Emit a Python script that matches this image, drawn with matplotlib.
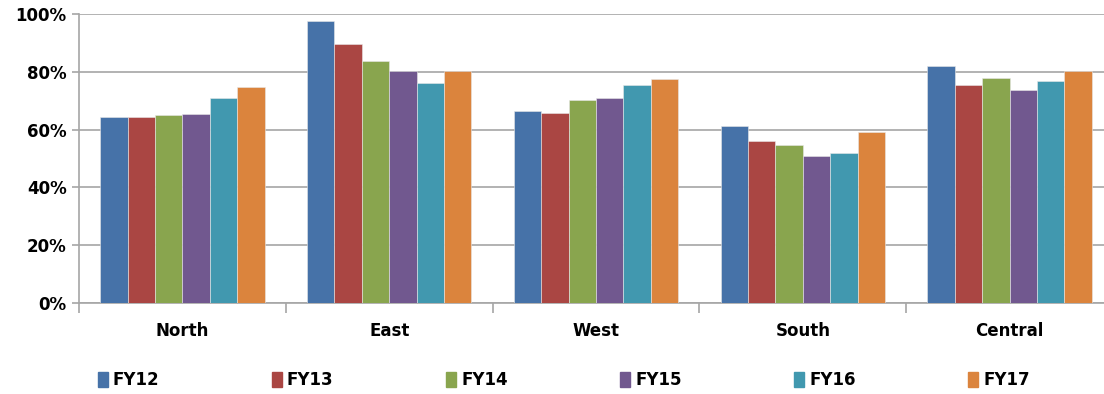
import matplotlib.pyplot as plt
from matplotlib.patches import Patch
import numpy as np

regions = ['North', 'East', 'West', 'South', 'Central']
years = ['FY12', 'FY13', 'FY14', 'FY15', 'FY16', 'FY17']
fy12 = [64.4, 97.6, 66.5, 61.1, 82.1]
fy13 = [64.2, 89.5, 65.8, 56.0, 75.6]
fy14 = [64.9, 83.6, 70.2, 54.8, 77.9]
fy15 = [65.5, 80.2, 71.1, 51.0, 73.6]
fy16 = [70.8, 76.0, 75.5, 52.0, 76.8]
fy17 = [74.8, 80.2, 77.4, 59.0, 80.3]
colors = ['#4672A8', '#AA4643', '#89A54E', '#71588F', '#4198AF', '#DB843D']

series = [fy12, fy13, fy14, fy15, fy16, fy17]
font = ['Liberation Sans Narrow', 'DejaVu Sans']

fig = plt.figure(figsize=(11.04, 3.94), dpi=100)
ax = fig.add_axes([79 / 1104, 91 / 394, 1034 / 1104, 289 / 394])

x = np.arange(len(regions))
w = 0.1325
for i, vals in enumerate(series):
    ax.bar(x + (i - 2.5) * w, vals, w, color=colors[i], edgecolor='#e8e8e8',
           linewidth=0.4, zorder=3)

ax.set_xlim(-0.5, len(regions) - 0.5)
ax.set_ylim(0, 100)
ax.set_yticks(range(0, 101, 20))
ax.set_yticklabels([f'{v}%' for v in range(0, 101, 20)], fontweight='bold',
                   fontsize=12, family=font)
ax.yaxis.grid(True, color='#a6a6a6', linewidth=1.2, zorder=0)
ax.set_xticks(x)
ax.set_xticklabels(regions, fontweight='bold', fontsize=12, family=font)
ax.tick_params(axis='x', length=0, pad=14)
ax.set_xticks(np.arange(-0.5, len(regions), 1), minor=True)
ax.tick_params(axis='x', which='minor', length=7, color='#a6a6a6', width=1.2)
ax.tick_params(axis='y', length=5, color='#a6a6a6', width=1.2, pad=4)
for s in ['top', 'right']:
    ax.spines[s].set_visible(False)
for s in ['left', 'bottom']:
    ax.spines[s].set_color('#a6a6a6')
    ax.spines[s].set_linewidth(1.2)

handles = [Patch(color=c) for c in colors]
fig.legend(handles, years, loc='center left', bbox_to_anchor=(0.075, 0.035),
           ncol=6, frameon=False, handlelength=0.6, handleheight=1.0,
           handletextpad=0.3, columnspacing=6.75,
           prop={'family': font, 'weight': 'bold', 'size': 12})

fig.savefig('out.png', dpi=100)
